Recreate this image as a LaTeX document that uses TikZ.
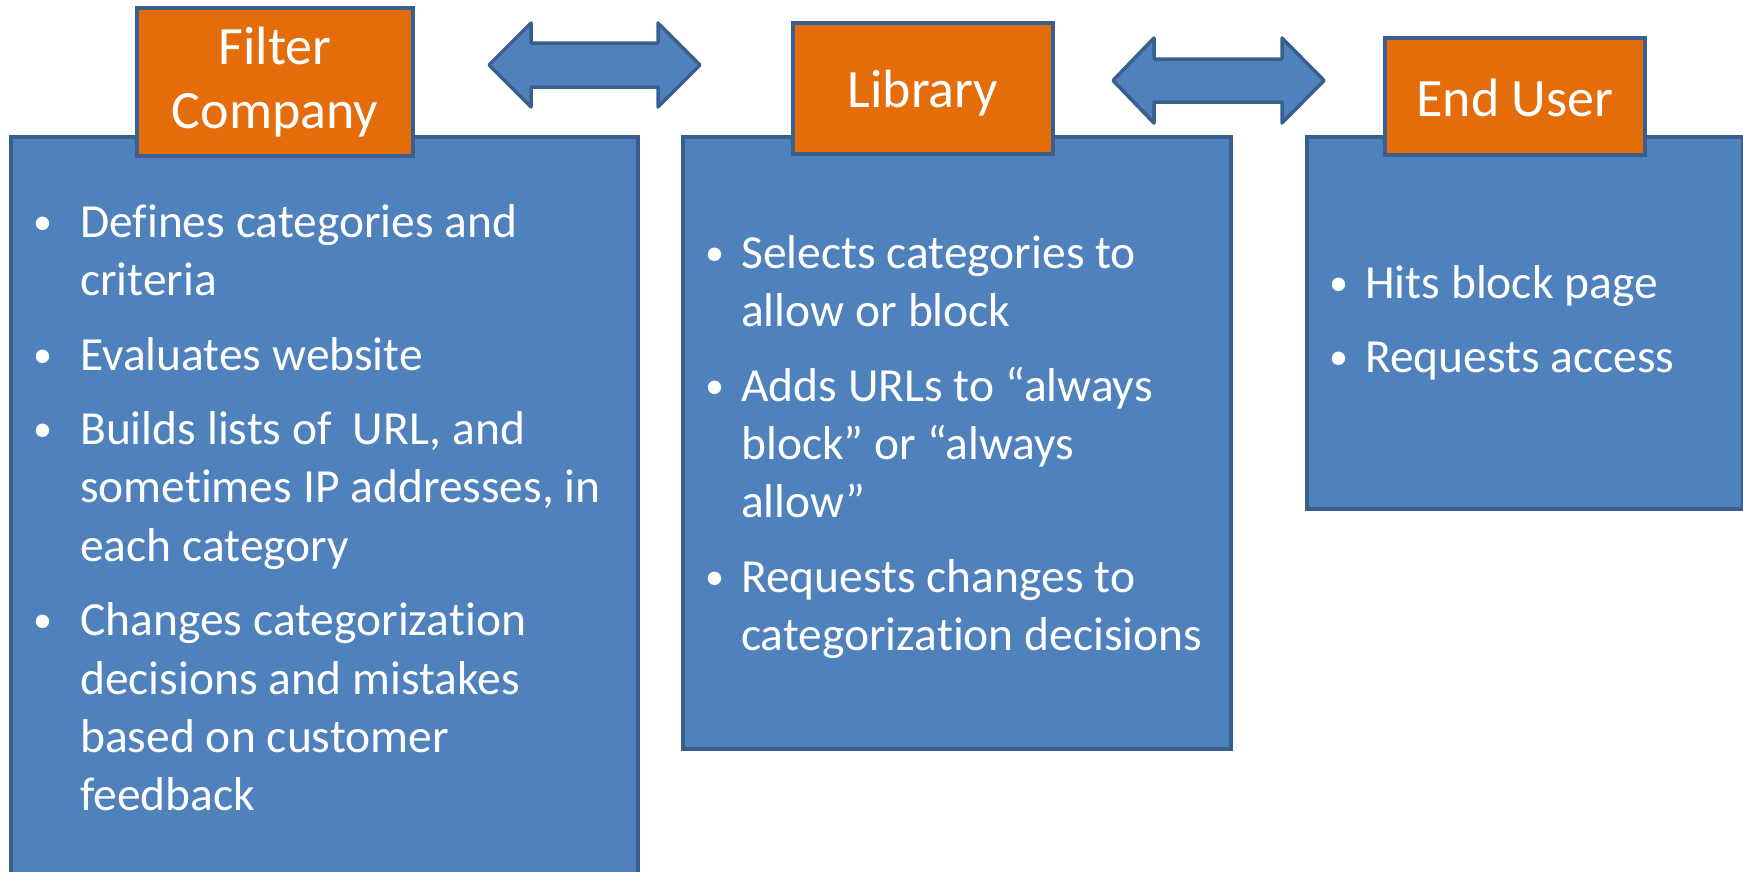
\documentclass[tikz,border=0pt]{standalone}
\usepackage{fontspec}
\setmainfont{Carlito}[Ligatures=NoCommon]
\definecolor{boxblue}{HTML}{4F81BD}
\definecolor{edgeblue}{HTML}{3A5F8D}
\definecolor{boxorange}{HTML}{E46C0A}
\newcommand\tightspace{\spaceskip=1.02\fontdimen2\font\relax}
\newcommand\bul[2][36pt]{\tightspace\noindent\hangindent=#1\hangafter=1\makebox[#1][l]{\raisebox{3pt}{\fontsize{38}{38}\selectfont\textbullet}}\rule{0pt}{40pt}#2\par\vskip16pt}

\begin{document}
\begin{tikzpicture}[x=1pt,y=-1pt,
		bluebox/.style={rectangle,draw=edgeblue,fill=boxblue,line width=3.5pt,inner sep=0pt,anchor=north west},
		titlebox/.style={rectangle,draw=edgeblue,fill=boxorange,line width=3.5pt,inner sep=0pt,text=white,align=center,font=\fontsize{54}{63.5}\selectfont},
		itemtext/.style={anchor=north west,inner sep=0pt,text=white,font=\fontsize{47.5}{58.4}\selectfont},
		fatarrow/.style={draw=edgeblue,fill=boxblue,line width=3.5pt,line join=round}]
	\useasboundingbox (0,0) rectangle (1743,871);
	\clip (0,0) rectangle (1743,871);
	\node[bluebox,minimum width=627pt,minimum height=760pt] (filterbox) at (9,135) {};
	\node[bluebox,minimum width=548pt,minimum height=612pt] (librarybox) at (681,135) {};
	\node[bluebox,minimum width=436pt,minimum height=372pt] (userbox) at (1305,135) {};
	\node[titlebox,minimum width=276pt,minimum height=148pt] (filter) at (275,82) {Filter\\Company};
	\node[titlebox,text height=38pt,text depth=0pt,minimum width=260pt,minimum height=131pt] (library) at (923,88.5) {Library};
	\node[titlebox,text height=40pt,text depth=0pt,minimum width=260pt,minimum height=117pt] (user) at (1515,96.5) {End User};
	\draw[fatarrow] (489,65) -- (531,23) -- (531,43) -- (658,43) -- (658,23) -- (700,65) -- (658,107) -- (658,87) -- (531,87) -- (531,107) -- cycle;
	\draw[fatarrow] (1113,80.5) -- (1154,38) -- (1154,59) -- (1282,59) -- (1282,38) -- (1324,80.5) -- (1282,123) -- (1282,102) -- (1154,102) -- (1154,123) -- cycle;
	\node[itemtext,text width=600pt] (filtertext) at (33,197) {%
		\bul[47pt]{Defines categories and\newline criteria}
		\bul[47pt]{Evaluates website}
		\bul[47pt]{Builds lists of\hspace{10pt} URL, and\newline sometimes IP addresses, in\newline each category}
		\bul[47pt]{Changes categorization\newline decisions and mistakes\newline based on customer\newline feedback}};
	\node[itemtext,text width=520pt] (librarytext) at (705,228) {%
		\bul{Selects categories to\newline allow or block}
		\bul{Adds URLs to “always\newline block” or “always\newline allow”}
		\bul{Requests changes to\newline categorization decisions}};
	\node[itemtext,text width=400pt] (usertext) at (1329,258) {%
		\bul{Hits block page}
		\bul{Requests access}};
\end{tikzpicture}
\end{document}
